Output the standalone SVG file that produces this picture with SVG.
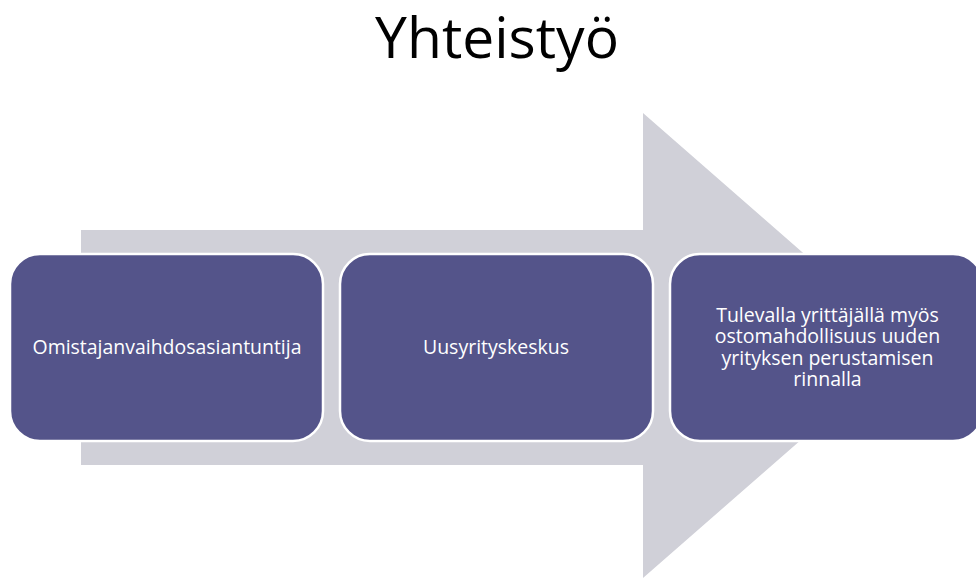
<svg xmlns="http://www.w3.org/2000/svg" width="976" height="578" viewBox="0 0 976 578">
<style>
.box{fill:#54548A;stroke:#FFFFFF;stroke-width:2.5}
.lbl{font-family:"Open Sans","Noto Sans",sans-serif;font-size:19.5px;fill:#FFFFFF;text-anchor:middle}
.title{font-family:"Open Sans","Noto Sans",sans-serif;font-size:57px;fill:#000000;text-anchor:middle}
</style>
<rect width="976" height="578" fill="#FFFFFF"/>
<text class="title" x="497" y="58">Yhteistyö</text>
<g id="arrow">
<polygon points="81,230 643,230 643,113 909,345.5 643,578 643,465 81,465" fill="#D0D0D8"/>
</g>
<g id="connectors"/>
<g id="node1">
<rect class="box" x="10" y="254" width="313" height="187" rx="30"/>
<text class="lbl" x="167" y="354" textLength="269" lengthAdjust="spacingAndGlyphs">Omistajanvaihdosasiantuntija</text>
</g>
<g id="node2">
<rect class="box" x="340" y="254" width="313" height="187" rx="30"/>
<text class="lbl" x="496" y="354">Uusyrityskeskus</text>
</g>
<g id="node3">
<rect class="box" x="670" y="254" width="313" height="187" rx="30"/>
<text class="lbl" x="827.5" y="322"><tspan x="827.5" y="322">Tulevalla yrittäjällä myös</tspan><tspan x="827.5" y="343">ostomahdollisuus uuden</tspan><tspan x="827.5" y="364.5">yrityksen perustamisen</tspan><tspan x="827.5" y="386">rinnalla</tspan></text>
</g>
</svg>
